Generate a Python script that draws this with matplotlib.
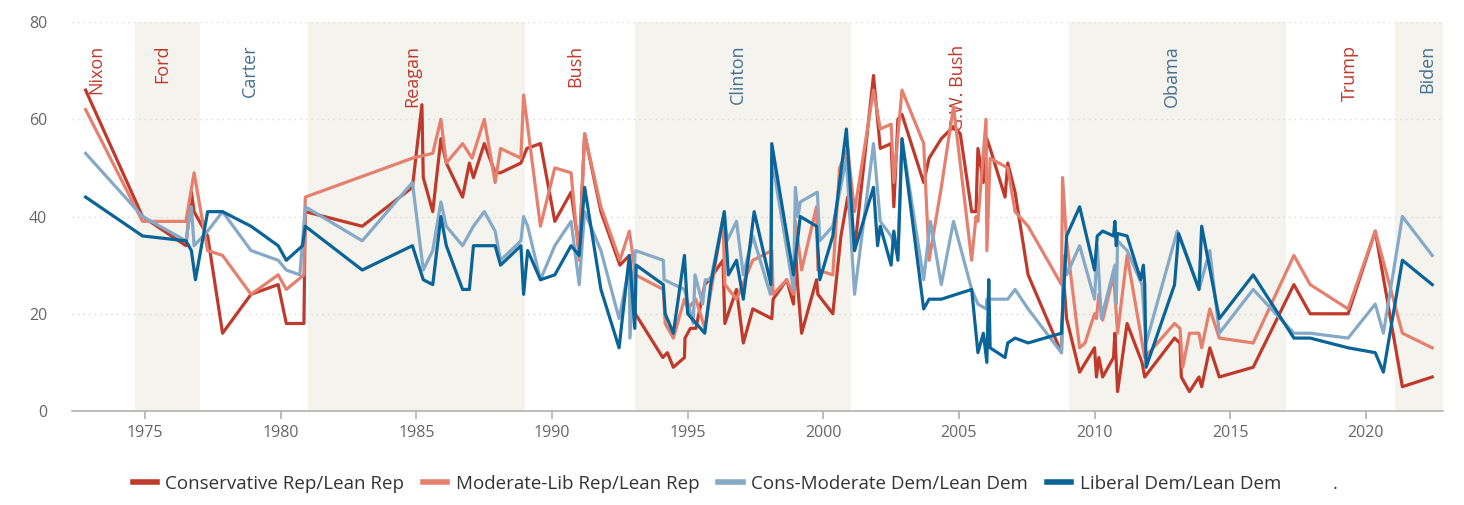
import matplotlib
matplotlib.use("Agg")
import matplotlib.pyplot as plt
from matplotlib.lines import Line2D

plt.rcParams["font.family"] = ["Open Sans", "DejaVu Sans"]

# ---------------------------------------------------------------------------
# Data
# ---------------------------------------------------------------------------

cons_rep_x = [
    1972.8, 1974.9, 1976.5, 1976.7, 1976.8, 1977.3, 1977.85, 1978.9, 1979.9, 1980.2,
    1980.85, 1980.9, 1983.0, 1984.85, 1985.2, 1985.25, 1985.6, 1985.9, 1986.1, 1986.7,
    1986.95, 1987.1, 1987.5, 1987.9, 1988.1, 1988.85, 1989.07, 1989.57, 1990.1, 1990.7,
    1991.0, 1991.2, 1991.8, 1992.5, 1992.85, 1993.07, 1994.08, 1994.25, 1994.47, 1994.88,
    1994.9, 1995.1, 1995.3, 1995.63, 1995.8, 1996.3, 1996.37, 1996.8, 1997.05, 1997.4,
    1998.1, 1998.15, 1998.65, 1998.9, 1998.97, 1999.05, 1999.2, 1999.75, 1999.8, 2000.35,
    2000.65, 2000.9, 2001.15, 2001.85, 2002.1, 2002.5, 2002.6, 2002.75, 2002.9, 2003.7,
    2003.9, 2004.35, 2004.8, 2005.05, 2005.47, 2005.63, 2005.7, 2005.9, 2006.03, 2006.15,
    2006.7, 2006.8, 2007.07, 2007.55, 2008.78, 2008.85, 2008.97, 2009.45, 2010.0, 2010.07,
    2010.16, 2010.3, 2010.7, 2010.75, 2010.85, 2011.2, 2011.75, 2011.85, 2012.95, 2013.15,
    2013.2, 2013.5, 2013.85, 2013.95, 2014.25, 2014.6, 2015.85, 2017.35, 2017.95, 2019.35,
    2020.35, 2021.35, 2022.45,
]
cons_rep_y = [
    66, 40, 34, 45, 41, 36, 16, 24, 26, 18,
    18, 41, 38, 46, 63, 48, 41, 56, 51, 44,
    51, 48, 55, 49, 49, 51, 54, 55, 39, 45,
    33, 57, 41, 30, 32, 20, 11, 12, 9, 11,
    15, 17, 17, 26, 27, 31, 18, 25, 14, 21,
    19, 23, 27, 22, 34, 26, 16, 27, 24, 20,
    36, 44, 33, 69, 54, 55, 42, 60, 61, 47,
    52, 56, 58.5, 57, 41, 41, 54, 47, 56, 54,
    44, 51, 45, 28, 12, 28, 19, 8, 13, 7,
    11, 7, 11, 16, 4, 18, 10, 7, 15, 14,
    7, 4, 7, 5, 13, 7, 9, 26, 20, 20,
    37, 5, 7,
]

mod_rep_x = [
    1972.8, 1974.9, 1976.5, 1976.8, 1977.3, 1977.85, 1978.9, 1979.9, 1980.2, 1980.85,
    1980.9, 1984.85, 1985.6, 1985.9, 1986.1, 1986.7, 1987.05, 1987.5, 1987.9, 1988.1,
    1988.85, 1988.95, 1989.57, 1990.1, 1990.7, 1991.0, 1991.2, 1991.8, 1992.5, 1992.85,
    1993.07, 1994.1, 1994.17, 1994.47, 1994.88, 1995.0, 1995.3, 1995.63, 1995.85, 1996.3,
    1996.37, 1996.8, 1997.4, 1998.1, 1998.15, 1998.65, 1998.9, 1998.97, 1999.2, 1999.75,
    1999.8, 2000.35, 2000.6, 2000.9, 2001.15, 2001.85, 2002.1, 2002.5, 2002.6, 2002.9,
    2003.7, 2003.9, 2004.35, 2004.8, 2005.47, 2005.63, 2005.7, 2006.0, 2006.03, 2006.15,
    2006.8, 2007.07, 2007.55, 2008.78, 2008.82, 2008.97, 2009.45, 2009.65, 2010.0, 2010.07,
    2010.16, 2010.3, 2010.7, 2010.85, 2011.2, 2011.85, 2012.95, 2013.15, 2013.25, 2013.5,
    2013.85, 2013.95, 2014.25, 2014.6, 2015.85, 2017.35, 2017.95, 2019.35, 2020.35, 2021.35,
    2022.45,
]
mod_rep_y = [
    62, 39, 39, 49, 33, 32, 24, 28, 25, 28,
    44, 52, 53, 60, 51, 55, 52, 60, 47, 54,
    52, 65, 38, 50, 49, 31, 57, 42, 31, 37,
    28, 25, 18, 15, 23, 21, 23, 17, 24.5, 39.6,
    26, 23, 31, 33, 24, 27, 24, 39, 29, 42,
    29, 28, 50, 54, 41, 66, 58, 59, 47, 66,
    55, 31, 46, 62.6, 31, 40, 39, 60, 33, 52,
    50, 41, 38, 26, 48, 35, 13, 14, 20, 19,
    24, 18.7, 28, 16, 32, 11, 18, 17, 9, 16,
    16, 13, 21, 15, 14, 32, 26, 21, 37, 16,
    13,
]

cmod_dem_x = [
    1972.8, 1974.9, 1976.5, 1976.7, 1976.8, 1977.3, 1977.85, 1978.9, 1979.9, 1980.2,
    1980.7, 1980.9, 1983.0, 1984.85, 1985.25, 1985.6, 1985.9, 1986.1, 1986.7, 1987.1,
    1987.5, 1987.9, 1988.1, 1988.85, 1988.95, 1989.1, 1989.57, 1990.1, 1990.7, 1991.0,
    1991.2, 1991.8, 1992.47, 1992.85, 1992.87, 1993.07, 1994.1, 1994.13, 1994.88, 1995.2,
    1995.27, 1995.55, 1995.65, 1995.85, 1996.35, 1996.45, 1996.8, 1997.05, 1997.4, 1998.05,
    1998.1, 1998.9, 1998.97, 1999.07, 1999.15, 1999.78, 1999.87, 2000.35, 2000.85, 2001.15,
    2001.85, 2002.1, 2002.5, 2002.75, 2002.9, 2003.7, 2003.95, 2004.35, 2004.8, 2005.47,
    2005.7, 2006.0, 2006.03, 2006.8, 2007.07, 2007.55, 2008.78, 2008.9, 2008.97, 2009.45,
    2010.0, 2010.1, 2010.25, 2010.75, 2010.8, 2010.85, 2011.2, 2011.75, 2011.9, 2013.05,
    2013.85, 2014.25, 2014.6, 2015.85, 2017.35, 2017.95, 2019.35, 2020.35, 2020.65, 2021.35,
    2022.45,
]
cmod_dem_y = [
    53, 40, 35, 42, 34, 37, 41, 33, 31, 29,
    28, 42, 35, 47, 29, 33, 43, 38, 34, 38,
    41, 37, 31, 35, 40, 38, 27, 34, 39, 26,
    41, 33, 19, 30, 15, 33, 31, 27, 25, 18,
    28, 22, 27, 27, 41, 35, 39, 28, 36, 24,
    52, 25, 46, 40, 43, 45, 35, 38, 52, 24,
    55, 39, 36, 32, 56, 27, 39, 26, 39, 25,
    22, 21, 23, 23, 25, 21, 12, 32, 28, 34,
    23, 34, 19, 30, 22, 35, 33, 26, 14, 37,
    25, 33, 16, 25, 16, 16, 15, 22, 16, 40,
    32,
]

lib_dem_x = [
    1972.8, 1974.9, 1976.5, 1976.7, 1976.85, 1977.3, 1977.85, 1978.9, 1979.9, 1980.2,
    1980.8, 1980.9, 1983.0, 1984.85, 1985.25, 1985.6, 1985.9, 1986.1, 1986.7, 1986.95,
    1987.1, 1987.5, 1987.9, 1988.1, 1988.85, 1988.95, 1989.1, 1989.57, 1990.1, 1990.7,
    1991.0, 1991.2, 1991.8, 1992.47, 1992.85, 1993.05, 1993.1, 1994.1, 1994.17, 1994.47,
    1994.88, 1995.0, 1995.63, 1995.85, 1996.35, 1996.5, 1996.8, 1997.05, 1997.45, 1998.07,
    1998.1, 1998.9, 1999.15, 1999.75, 1999.87, 2000.35, 2000.85, 2001.15, 2001.85, 2002.0,
    2002.1, 2002.5, 2002.6, 2002.75, 2002.9, 2003.7, 2003.9, 2004.35, 2005.47, 2005.7,
    2005.9, 2006.03, 2006.1, 2006.15, 2006.7, 2006.8, 2007.07, 2007.55, 2008.78, 2008.97,
    2009.45, 2010.0, 2010.1, 2010.3, 2010.7, 2010.75, 2010.8, 2010.85, 2011.2, 2011.7,
    2011.8, 2011.85, 2011.9, 2012.95, 2013.1, 2013.85, 2013.95, 2014.6, 2015.85, 2017.35,
    2017.95, 2019.35, 2020.35, 2020.65, 2021.35, 2022.45,
]
lib_dem_y = [
    44, 36, 35, 33, 27, 41, 41, 38, 34, 31,
    34, 38, 29, 34, 27, 26, 40, 34, 25, 25,
    34, 34, 34, 30, 34, 24, 33, 27, 28, 34,
    32, 46, 25, 13, 32, 17, 30, 26, 20, 16,
    32, 20, 16, 26, 41, 28, 31, 23, 41, 26,
    55, 28, 40, 38, 27, 36, 58, 33, 46, 34,
    38, 30, 37, 31, 56, 21, 23, 23, 25, 12,
    16, 10, 27, 13, 11, 14, 15, 14, 16, 36,
    42, 29, 36, 37, 36, 39, 34, 36.5, 36, 27,
    30, 26, 9, 26, 36.5, 25, 38, 19, 28, 15,
    15, 13, 12, 8, 31, 26,
]

series_labels = [
    "Conservative Rep/Lean Rep",
    "Moderate-Lib Rep/Lean Rep",
    "Cons-Moderate Dem/Lean Dem",
    "Liberal Dem/Lean Dem",
]

presidents = ["Nixon", "Ford", "Carter", "Reagan", "Bush", "Clinton",
              "G.W. Bush", "Obama", "Trump", "Biden"]
president_party = ["R", "R", "D", "R", "R", "D", "R", "D", "R", "D"]
president_label_x = [1973.2, 1975.63, 1978.87, 1984.84, 1990.85, 1996.86,
                     2004.97, 2012.86, 2019.42, 2022.26]

# shaded (alternating) terms: start, end
shaded_terms = [(1974.63, 1977.03), (1981.01, 1989.0), (1993.06, 2001.02),
                (2009.06, 2017.06), (2021.07, 2023.5)]

# ---------------------------------------------------------------------------
# Styling
# ---------------------------------------------------------------------------

COLORS = ["#bf3a2b", "#e5806f", "#85a9c6", "#0b6497"]
REP_TEXT = "#c0392b"
DEM_TEXT = "#45708f"
SHADE = "#f4f3ee"

fig = plt.figure(figsize=(14.64, 5.05), dpi=100)
ax = fig.add_axes([0.0492, 0.1861, 0.9365, 0.7703])

for start, end in shaded_terms:
    ax.axvspan(start, end, color=SHADE, zorder=0, lw=0)

for yv in [20, 40, 60, 80]:
    ax.axhline(yv, color="#d9d9d9", lw=1, ls=(0, (1, 3)), zorder=1)

for name, party, xpos in zip(presidents, president_party, president_label_x):
    ax.text(xpos, 75.3, name, rotation=90, ha="center", va="top", fontsize=13,
            color=REP_TEXT if party == "R" else DEM_TEXT, zorder=2)

all_series = [(cons_rep_x, cons_rep_y), (mod_rep_x, mod_rep_y),
              (cmod_dem_x, cmod_dem_y), (lib_dem_x, lib_dem_y)]
for i, (xs, ys) in enumerate(all_series):
    ax.plot(xs, ys, color=COLORS[i], lw=2.3, zorder=3 + i)

ax.set_xlim(1972.3, 2022.85)
ax.set_ylim(0, 80)
ax.set_yticks([0, 20, 40, 60, 80])
ax.set_xticks([1975, 1980, 1985, 1990, 1995, 2000, 2005, 2010, 2015, 2020])

for side in ["top", "right", "left"]:
    ax.spines[side].set_visible(False)
ax.spines["bottom"].set_color("#b0b0b0")
ax.spines["bottom"].set_linewidth(1.2)
ax.spines["bottom"].set_zorder(10)

ax.tick_params(axis="x", colors="#b0b0b0", length=6, width=1.2, labelsize=11.5,
               labelcolor="#666666", pad=4)
ax.tick_params(axis="y", length=0, labelsize=11.5, labelcolor="#666666", pad=18)

handles = [Line2D([], [], color=c, lw=4) for c in COLORS]
handles.append(Line2D([], [], color="none", lw=4))
labels = series_labels + ["."]
fig.legend(handles, labels, loc="center", ncol=5, frameon=False,
           bbox_to_anchor=(0.502, 0.042), fontsize=13.5, handlelength=1.3,
           handletextpad=0.45, columnspacing=1.0, labelcolor="#333333")

fig.savefig("out.png", dpi=100)
